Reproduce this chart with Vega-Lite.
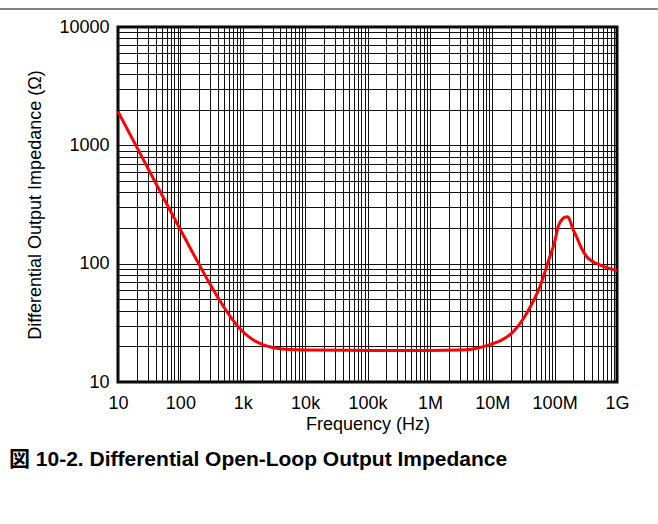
{
  "$schema": "https://vega.github.io/schema/vega-lite/v6.json",
  "width": 499,
  "height": 355,
  "autosize": {"type": "none"},
  "padding": {"left": 118, "top": 27, "right": 41, "bottom": 142},
  "background": "white",
  "config": {
    "font": "Liberation Sans",
    "view": {"stroke": "#000000", "strokeWidth": 3}
  },
  "title": {
    "text": "図 10-2. Differential Open-Loop Output Impedance",
    "orient": "bottom",
    "anchor": "start",
    "frame": "group",
    "dx": -109,
    "offset": 16,
    "font": "Liberation Sans, Noto Sans CJK JP",
    "fontSize": 21,
    "fontWeight": "bold",
    "color": "#000000"
  },
  "layer": [
    {
      "data": {"values": [
        {"f": 10, "z": 1930}, {"f": 15, "z": 1287}, {"f": 20, "z": 965}, {"f": 30, "z": 643},
        {"f": 50, "z": 386}, {"f": 70, "z": 276}, {"f": 100, "z": 194}, {"f": 150, "z": 130},
        {"f": 200, "z": 98.3}, {"f": 300, "z": 66.9}, {"f": 500, "z": 42.8}, {"f": 700, "z": 33.2},
        {"f": 1000, "z": 26.7}, {"f": 1500, "z": 22.5}, {"f": 2000, "z": 20.9}, {"f": 3000, "z": 19.6},
        {"f": 5000, "z": 18.9}, {"f": 10000, "z": 18.6}, {"f": 100000, "z": 18.5}, {"f": 1000000, "z": 18.5},
        {"f": 3000000, "z": 18.6}, {"f": 5000000, "z": 19.0}, {"f": 7000000, "z": 19.8}, {"f": 10000000, "z": 21.0},
        {"f": 14100000, "z": 22.6}, {"f": 20400000, "z": 25.8}, {"f": 35500000, "z": 38}, {"f": 58000000, "z": 64},
        {"f": 84000000, "z": 115}, {"f": 100000000, "z": 152}, {"f": 114000000, "z": 206}, {"f": 135000000, "z": 240},
        {"f": 146000000, "z": 247}, {"f": 160000000, "z": 249}, {"f": 165000000, "z": 247}, {"f": 180000000, "z": 225},
        {"f": 190000000, "z": 205}, {"f": 224000000, "z": 169}, {"f": 270000000, "z": 135}, {"f": 324000000, "z": 115},
        {"f": 400000000, "z": 105}, {"f": 530000000, "z": 97.5}, {"f": 710000000, "z": 92}, {"f": 1000000000, "z": 87.4}
      ]},
      "mark": {"type": "line", "color": "#ff0000", "strokeWidth": 3, "interpolate": "monotone"},
      "encoding": {
        "x": {
          "field": "f", "type": "quantitative",
          "scale": {"type": "log", "domain": [10, 1000000000], "nice": false},
          "axis": {
            "title": "Frequency (Hz)",
            "values": [10,20,30,40,50,60,70,80,90,100,200,300,400,500,600,700,800,900,1000,2000,3000,4000,5000,6000,7000,8000,9000,10000,20000,30000,40000,50000,60000,70000,80000,90000,100000,200000,300000,400000,500000,600000,700000,800000,900000,1000000,2000000,3000000,4000000,5000000,6000000,7000000,8000000,9000000,10000000,20000000,30000000,40000000,50000000,60000000,70000000,80000000,90000000,100000000,200000000,300000000,400000000,500000000,600000000,700000000,800000000,900000000,1000000000],
            "labelExpr": "abs(log(datum.value)/LN10 - round(log(datum.value)/LN10)) > 0.000001 ? '' : (datum.value >= 1000000000 ? '1G' : datum.value >= 1000000 ? format(datum.value/1000000, 'd') + 'M' : datum.value >= 1000 ? format(datum.value/1000, 'd') + 'k' : format(datum.value, 'd'))",
            "labelOverlap": false,
            "labelFlush": false,
            "labelBound": false,
            "ticks": false,
            "tickSize": 0,
            "domain": false,
            "grid": true,
            "gridColor": "#111111",
            "gridOpacity": 1,
            "gridWidth": 1,
            "labelFontSize": 18,
            "labelColor": "#000000",
            "labelPadding": 12,
            "titleFontSize": 18,
            "titleFontWeight": "normal",
            "titleColor": "#000000",
            "titlePadding": 3
          }
        },
        "y": {
          "field": "z", "type": "quantitative",
          "scale": {"type": "log", "domain": [10, 10000], "nice": false},
          "axis": {
            "title": "Differential Output Impedance (Ω)",
            "values": [10,20,30,40,50,60,70,80,90,100,200,300,400,500,600,700,800,900,1000,2000,3000,4000,5000,6000,7000,8000,9000,10000],
            "labelExpr": "abs(log(datum.value)/LN10 - round(log(datum.value)/LN10)) > 0.000001 ? '' : format(datum.value, 'd')",
            "labelOverlap": false,
            "labelFlush": false,
            "labelBound": false,
            "ticks": false,
            "tickSize": 0,
            "domain": false,
            "grid": true,
            "gridColor": "#111111",
            "gridOpacity": 1,
            "gridWidth": 1,
            "labelFontSize": 18,
            "labelColor": "#000000",
            "labelPadding": 9,
            "titleFontSize": 18,
            "titleFontWeight": "normal",
            "titleColor": "#000000",
            "titlePadding": 14
          }
        }
      }
    },
    {
      "data": {"values": [{"edge": "top"}]},
      "mark": {"type": "rule", "color": "#808080", "strokeWidth": 2, "clip": false},
      "encoding": {
        "y": {"datum": 14190, "type": "quantitative"},
        "x": {"datum": 0.1285, "type": "quantitative"},
        "x2": {"datum": 4500000000}
      }
    }
  ]
}
